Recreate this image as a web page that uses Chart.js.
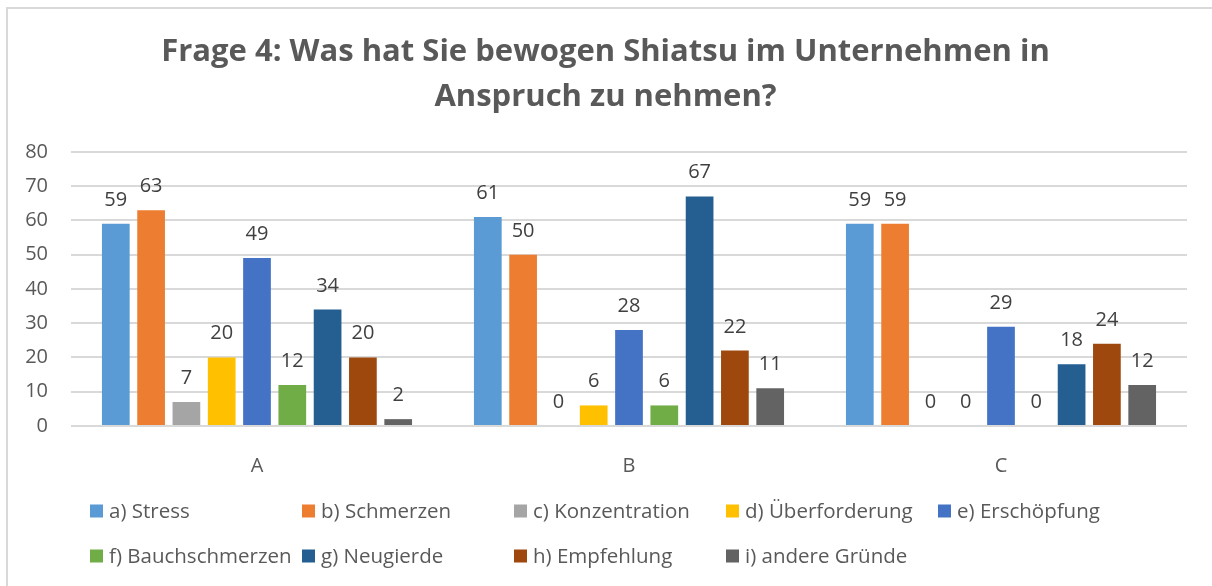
<!DOCTYPE html>
<html>
<head>
<meta charset="utf-8">
<script src="https://cdn.jsdelivr.net/npm/chart.js@4"></script>
<style>
  html, body { margin: 0; padding: 0; background: #fff; }
  canvas { display: block; }
</style>
</head>
<body>
<canvas id="chart" width="1212" height="586"></canvas>
<script>
// Frage 4 - Beweggründe, Shiatsu in Anspruch zu nehmen

const titleLines = ['Frage 4: Was hat Sie bewogen Shiatsu im Unternehmen in', 'Anspruch zu nehmen?'];
const categories = ['A', 'B', 'C'];
const yTicks = [0, 10, 20, 30, 40, 50, 60, 70, 80];

const seriesNames = [
    'a) Stress', 'b) Schmerzen', 'c) Konzentration', 'd) Überforderung', 'e) Erschöpfung',
    'f) Bauchschmerzen', 'g) Neugierde', 'h) Empfehlung', 'i) andere Gründe'
];
const stress = [59, 61, 59];
const schmerzen = [63, 50, 59];
const konzentration = [7, 0, 0];
const ueberforderung = [20, 6, 0];
const erschoepfung = [49, 28, 29];
const bauchschmerzen = [12, 6, 0];
const neugierde = [34, 67, 18];
const empfehlung = [20, 22, 24];
const andere = [2, 11, 12];

const seriesValues = [stress, schmerzen, konzentration, ueberforderung, erschoepfung,
    bauchschmerzen, neugierde, empfehlung, andere];
const seriesColors = ['#5B9BD5', '#ED7D31', '#A5A5A5', '#FFC000', '#4472C4',
    '#70AD47', '#255E91', '#9E480E', '#636363'];

const FONT = "'Open Sans', 'Noto Sans', sans-serif";
const gridColor = '#D9D9D9';
const textColor = '#595959';

// frame (top + left edge visible) and white background
const framePlugin = {
    id: 'frame',
    beforeDraw(chart) {
        const ctx = chart.ctx;
        ctx.save();
        ctx.fillStyle = '#fff';
        ctx.fillRect(0, 0, chart.width, chart.height);
        ctx.fillStyle = gridColor;
        ctx.fillRect(6, 7, chart.width, 2);
        ctx.fillRect(6, 7, 2, chart.height);
        ctx.restore();
    }
};

// value labels above every bar
const valueLabels = {
    id: 'valueLabels',
    afterDatasetsDraw(chart) {
        const ctx = chart.ctx;
        ctx.save();
        ctx.font = '20px ' + FONT;
        ctx.fillStyle = '#404040';
        ctx.textAlign = 'center';
        ctx.textBaseline = 'alphabetic';
        chart.data.datasets.forEach((ds, i) => {
            chart.getDatasetMeta(i).data.forEach((bar, j) => {
                ctx.fillText(String(ds.data[j]), bar.x, bar.y - 18);
            });
        });
        ctx.restore();
    }
};

// Excel-style legend, fixed columns, two rows
const gridLegend = {
    id: 'gridLegend',
    afterDraw(chart) {
        const ctx = chart.ctx;
        const perRow = 5, colStep = 212, x0 = 90, rows = [511, 556], box = 13;
        ctx.save();
        ctx.font = '20.5px ' + FONT;
        ctx.textBaseline = 'middle';
        ctx.textAlign = 'left';
        chart.data.datasets.forEach((ds, i) => {
            const x = x0 + (i % perRow) * colStep;
            const y = rows[Math.floor(i / perRow)];
            ctx.fillStyle = ds.backgroundColor;
            ctx.fillRect(x, y - box / 2, box, box);
            ctx.fillStyle = textColor;
            ctx.fillText(ds.label, x + box + 6, y + 1);
        });
        ctx.restore();
    }
};

new Chart(document.getElementById('chart'), {
    type: 'bar',
    data: {
        labels: categories,
        datasets: seriesNames.map((name, i) => ({
            label: name,
            data: seriesValues[i],
            backgroundColor: seriesColors[i],
            borderWidth: 0,
            categoryPercentage: 0.854,
            barPercentage: 0.785
        }))
    },
    options: {
        responsive: false,
        animation: false,
        devicePixelRatio: 1,
        layout: { padding: { left: 24, right: 25, top: 0, bottom: 0 } },
        plugins: {
            legend: { display: false },
            tooltip: { enabled: false },
            title: {
                display: true,
                text: titleLines,
                color: textColor,
                font: { family: FONT, size: 31, weight: 'bold', lineHeight: 1.45 },
                padding: { top: 30, bottom: 32 }
            }
        },
        scales: {
            x: {
                grid: { display: false },
                border: { display: false },
                ticks: { color: textColor, font: { family: FONT, size: 20 }, padding: 20 },
                afterFit(scale) { scale.height = 160; }
            },
            y: {
                min: 0,
                max: 80,
                afterBuildTicks(scale) { scale.ticks = yTicks.map(v => ({ value: v })); },
                grid: { color: gridColor, lineWidth: 2, drawTicks: false },
                border: { display: false },
                ticks: { color: textColor, font: { family: FONT, size: 20 }, padding: 23 },
                afterFit(scale) { scale.width = 47; }
            }
        }
    },
    plugins: [framePlugin, valueLabels, gridLegend]
});
</script>
</body>
</html>
